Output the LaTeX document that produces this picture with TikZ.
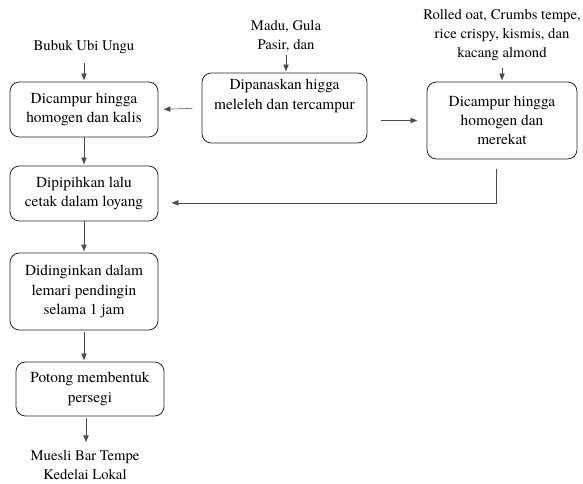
\documentclass[tikz,border=0pt]{standalone}
\usepackage{fontspec}
\setmainfont{texgyretermes}[Extension=.otf,UprightFont=*-regular,BoldFont=*-bold,ItalicFont=*-italic,BoldItalicFont=*-bolditalic]
\usetikzlibrary{arrows.meta}

\begin{document}
\begin{tikzpicture}[x=0.75pt,y=-0.75pt,>={Triangle[length=5pt,width=4pt]},
    stepbox/.style={draw=black!85,semithick,rounded corners=7pt,align=center,
      inner sep=0pt,font=\fontsize{11.5}{14.5}\selectfont},
    input/.style={align=center,inner sep=1pt,font=\fontsize{11}{14.5}\selectfont},
    flow/.style={->,draw=black!70}]
  \useasboundingbox (0,0) rectangle (583,484);

  % bahan
  \node[input] (ubi) at (84,47) {Bubuk Ubi Ungu};
  \node[input] (madu) at (286,36) {Madu, Gula\\Pasir, dan};
  \node[input] (oat) at (502,35) {Rolled oat, Crumbs tempe,\\rice crispy, kismis, dan\\kacang almond};
  \node[input] (muesli) at (85,465) {Muesli Bar Tempe\\Kedelai Lokal};

  % tahapan
  \node[stepbox,minimum width=111pt,minimum height=41.25pt] (campur) at (84,109.5)
    {Dicampur hingga\\homogen dan kalis};
  \node[stepbox,minimum width=123.75pt,minimum height=52.5pt] (panas) at (284.5,108)
    {Dipanaskan higga\\meleleh dan tercampur\\[6pt]};
  \node[stepbox,minimum width=112.5pt,minimum height=57.75pt] (rekat) at (502,120.5)
    {Dicampur hingga\\homogen dan\\merekat};
  \node[stepbox,minimum width=111pt,minimum height=41.25pt] (pipih) at (84,193.5)
    {Dipipihkan lalu\\cetak dalam loyang};
  \node[stepbox,minimum width=111pt,minimum height=57.75pt] (dingin) at (84,291.5)
    {Didinginkan dalam\\lemari pendingin\\selama 1 jam};
  \node[stepbox,minimum width=111pt,minimum height=40.5pt] (potong) at (90,389)
    {Potong membentuk\\persegi};

  % alur
  \draw[flow,shorten <=6pt,shorten >=1pt] (ubi) -- (campur);
  \draw[flow,shorten <=1pt,shorten >=1pt] (madu) -- (panas.north -| madu);
  \draw[flow,shorten <=4pt,shorten >=1pt] (oat) -- (rekat);
  \draw[flow,shorten <=7pt,shorten >=4pt] (panas.west) -- (campur.east);
  \draw[flow,shorten <=10pt,shorten >=7pt] (panas.east |- rekat.west) -- (rekat.west);
  \draw[flow,shorten <=7pt] ([xshift=-4.5pt]rekat.south) |- ([xshift=10pt,yshift=-7pt]pipih.east);
  \draw[flow,shorten >=1pt] (campur) -- (pipih);
  \draw[flow,shorten >=1pt] (pipih) -- (dingin);
  \draw[flow,shorten <=1pt,shorten >=1pt] (dingin.south) -- (dingin.south |- potong.north);
  \draw[flow,shorten <=1pt,shorten >=5pt] ([xshift=-3pt]potong.south) -- ([xshift=-3pt]potong.south |- muesli.north);
\end{tikzpicture}
\end{document}
